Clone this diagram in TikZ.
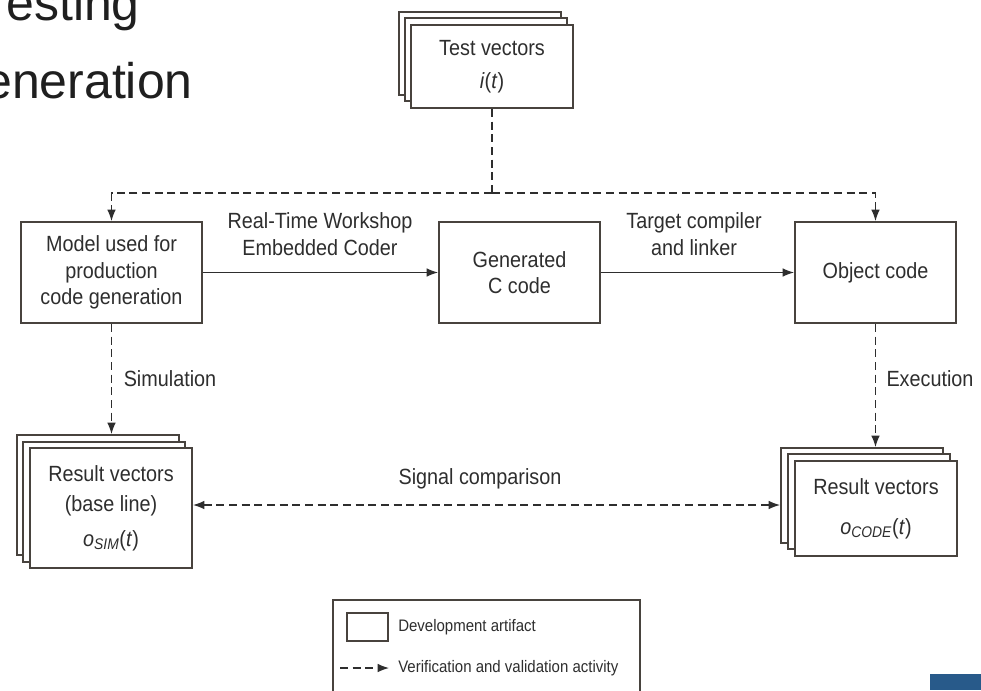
\documentclass[tikz,border=0pt]{standalone}
\usepackage{fontspec}
\setmainfont{Liberation Sans}
\newfontfamily\narrowfont[FakeStretch=0.9]{Liberation Sans}
\usetikzlibrary{arrows.meta}

\definecolor{ink}{HTML}{2E2E2E}
\definecolor{frame}{HTML}{48433E}
\definecolor{slideblue}{RGB}{40,90,138}
\newcommand\pxu{0.75pt}
\newcommand\boxfont{\narrowfont\fontsize{16.5pt}{20pt}\selectfont}
\newcommand\legendfont{\narrowfont\fontsize{12.5pt}{15pt}\selectfont}

\tikzset{
  tip/.style={-{Latex[length=8.5pt,width=6.5pt]}},
  artifact/.style={draw=frame, line width=1.5pt, fill=white, inner sep=0pt,
    align=center, font=\boxfont, text=ink},
  page/.style={artifact, minimum width=162*\pxu},
  flow/.style={draw=ink, line width=1pt, tip},
  vvline/.style={draw=ink, line width=1pt, dash pattern=on 6pt off 3.5pt},
  vv/.style={vvline, tip},
  lbl/.style={font=\boxfont, text=ink, align=center, inner sep=0pt},
  slidetitle/.style={font=\fontsize{37.5pt}{40pt}\selectfont, text=black!88, inner sep=0pt},
}

\begin{document}
\begin{tikzpicture}[x=0.75pt, y=-0.75pt]
  \useasboundingbox (0,0) rectangle (981,690);
  \fill[white] (0,0) rectangle (981,690);
  \clip (0,0) rectangle (981,690);

  % slide heading, running off the left edge
  \node[slidetitle, anchor=base east] (headA) at (140,20) {esting};
  \node[slidetitle, anchor=base east] (headB) at (193,98) {eneration};

  % test vectors: a stack of three pages
  \node[page, minimum height=83*\pxu] (tvBack) at (480,53.5) {};
  \node[page, minimum height=83*\pxu] (tvMid)  at (486,59.5) {};
  \node[page, minimum height=83*\pxu] (tvFront) at (492,66.5)
    {Test vectors\\[5pt]\textit{i}(\textit{t})};

  % development artifacts
  \node[artifact, minimum width=181*\pxu, minimum height=101*\pxu] (model) at (111.5,272.5)
    {Model used for\\production\\code generation};
  \node[artifact, minimum width=161*\pxu, minimum height=101*\pxu] (gen) at (519.5,272.5)
    {Generated\\C code};
  \node[artifact, minimum width=161*\pxu, minimum height=101*\pxu] (obj) at (875.5,272.5)
    {Object code};

  % simulation results
  \node[page, minimum height=120*\pxu] (simBack) at (98,495) {};
  \node[page, minimum height=120*\pxu] (simMid)  at (104,502) {};
  \node[page, minimum height=120*\pxu] (simFront) at (111,508)
    {Result vectors\\[3pt](base line)\\[6pt]\textit{o}\textsubscript{\textit{SIM}}(\textit{t})};

  % execution results
  \node[page, minimum height=95*\pxu] (codeBack) at (862,495.5) {};
  \node[page, minimum height=95*\pxu] (codeMid)  at (869,501.5) {};
  \node[page, minimum height=95*\pxu] (codeFront) at (876,508.5)
    {Result vectors\\[10pt]\textit{o}\textsubscript{\textit{CODE}}(\textit{t})};

  % translation chain
  \draw[flow] (model.east) -- (gen.west);
  \draw[flow] (gen.east) -- (obj.west);
  \node[lbl] (rtw) at (320,234) {Real-Time Workshop\\Embedded Coder};
  \node[lbl] (tcl) at (694,234) {Target compiler\\and linker};

  % test vectors feed both model and object code
  \coordinate (split) at (0,193);
  \draw[vvline] (tvFront.south) -- (tvFront.south |- split);
  \draw[vv] (tvFront.south |- split) -| (model.north);
  \draw[vv] (tvFront.south |- split) -| (obj.north);

  % simulation and execution
  \draw[vv] (model.south) -- (model.south |- simBack.north);
  \draw[vv] (obj.south) -- (obj.south |- codeBack.north);
  \node[lbl] (simLbl) at (170,379) {Simulation};
  \node[lbl] (exeLbl) at (930,379) {Execution};

  % signal comparison
  \coordinate (sig) at (0,505);
  \draw[vvline, {Latex[length=8.5pt,width=6.5pt]}-{Latex[length=8.5pt,width=6.5pt]}]
    (simFront.east |- sig) -- (codeBack.west |- sig);
  \node[lbl] (cmpLbl) at (480,479) {Signal comparison};

  % legend
  \node[draw=frame, line width=1.5pt, fill=white, minimum width=307*\pxu,
        minimum height=100*\pxu, inner sep=0pt] (legend) at (486.5,650) {};
  \node[draw=frame, line width=1.2pt, minimum width=41*\pxu, minimum height=28*\pxu,
        inner sep=0pt] (legBox) at (367.5,627) {};
  \node[anchor=west, font=\legendfont, text=ink, inner sep=0pt] (legBoxTxt) at (398,627)
    {Development artifact};
  \coordinate (legA) at (340,668);
  \coordinate (legB) at (389,668);
  \draw[vv] (legA) -- (legB);
  \node[anchor=west, font=\legendfont, text=ink, inner sep=0pt] (legArrTxt) at (398,668)
    {Verification and validation activity};

  % slide corner mark
  \fill[slideblue] (930,674) rectangle (981,690);
\end{tikzpicture}
\end{document}
